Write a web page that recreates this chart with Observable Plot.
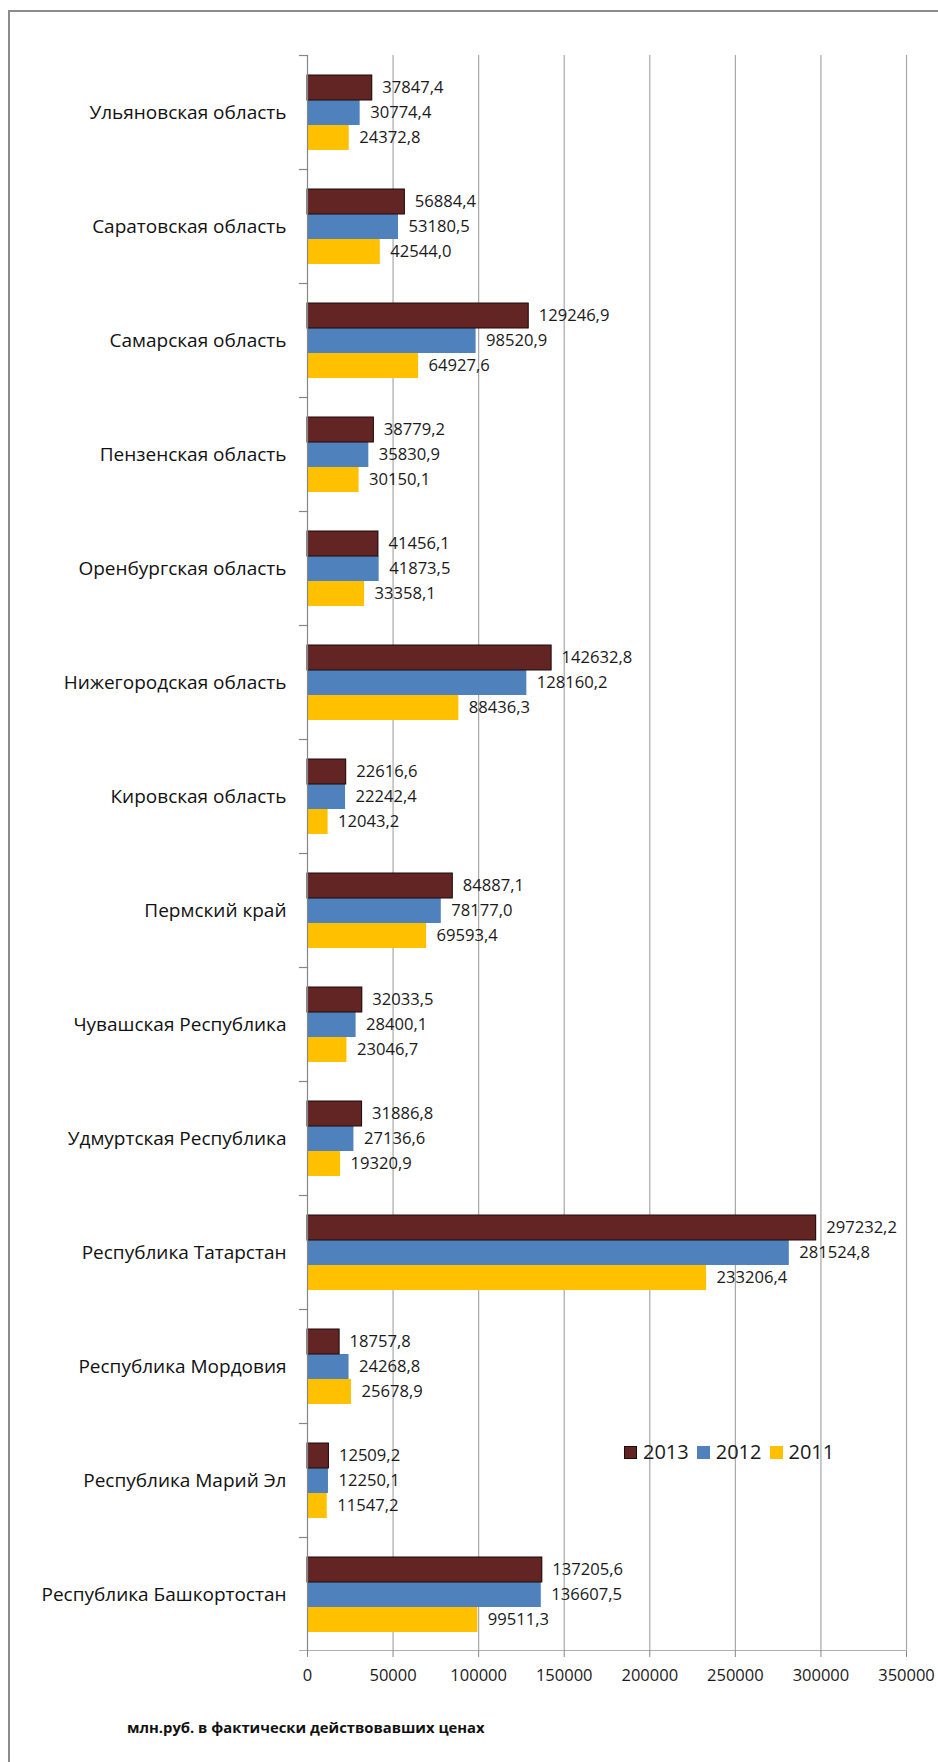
<!DOCTYPE html>
<html>
<head>
<meta charset="utf-8">
<script src="https://cdn.jsdelivr.net/npm/d3@7"></script>
<script src="https://cdn.jsdelivr.net/npm/@observablehq/plot@0.6"></script>
<style>
  html, body { margin: 0; padding: 0; background: #ffffff; }
  #wrap { position: relative; width: 938px; height: 1762px; overflow: hidden; font-family: "Open Sans", sans-serif; color: #1a1a1a; }
  #border { position: absolute; left: 8px; top: 10px; right: -10px; bottom: -10px; border-left: 2px solid #8c8c8c; border-top: 2px solid #8c8c8c; }
  #chart { position: absolute; left: 0; top: 0; }
  #legend { position: absolute; left: 624px; top: 1439px; display: flex; align-items: center; font-size: 20px; line-height: 26px; }
  #legend .item { display: flex; align-items: center; margin-right: 8px; }
  #legend .sw { width: 13px; height: 13px; margin-right: 6px; box-sizing: border-box; }
  #note { position: absolute; left: 127px; top: 1716px; font-size: 14.8px; font-weight: bold; line-height: 22px; color: #111; }
</style>
</head>
<body>
<div id="wrap">
  <div id="border"></div>
  <div id="chart"></div>
  <div id="legend"></div>
  <div id="note">млн.руб. в фактически действовавших ценах</div>
</div>
<script>
// ---- data ----
const regions = [
  "Ульяновская область",
  "Саратовская область",
  "Самарская область",
  "Пензенская область",
  "Оренбургская область",
  "Нижегородская область",
  "Кировская область",
  "Пермский край",
  "Чувашская Республика",
  "Удмуртская Республика",
  "Республика Татарстан",
  "Республика Мордовия",
  "Республика Марий Эл",
  "Республика Башкортостан"
];
const years = ["2013", "2012", "2011"];
const values2013 = [37847.4, 56884.4, 129246.9, 38779.2, 41456.1, 142632.8, 22616.6, 84887.1, 32033.5, 31886.8, 297232.2, 18757.8, 12509.2, 137205.6];
const values2012 = [30774.4, 53180.5, 98520.9, 35830.9, 41873.5, 128160.2, 22242.4, 78177.0, 28400.1, 27136.6, 281524.8, 24268.8, 12250.1, 136607.5];
const values2011 = [24372.8, 42544.0, 64927.6, 30150.1, 33358.1, 88436.3, 12043.2, 69593.4, 23046.7, 19320.9, 233206.4, 25678.9, 11547.2, 99511.3];
const colors = ["#632523", "#4f81bd", "#ffc000"];
const xTicks = [0, 50000, 100000, 150000, 200000, 250000, 300000, 350000];
const xLabels = ["0", "50000", "100000", "150000", "200000", "250000", "300000", "350000"];

// ---- build table ----
const series = {"2013": values2013, "2012": values2012, "2011": values2011};
const rows = [];
regions.forEach((r, i) => years.forEach(y => rows.push({region: r, year: y, value: series[y][i]})));
const fmt = v => v.toFixed(1).replace(".", ",");

// ---- layout ----
const W = 938, H = 1762, mL = 307, mR = 32, mT = 51, mB = 107.5;
const plotW = W - mL - mR;
const facetH = (H - mT - mB) / regions.length;
const axisGray = "#868686";
const gridGray = "#a8a8a8";

const chart = Plot.plot({
  width: W, height: H,
  marginLeft: mL, marginRight: mR, marginTop: mT, marginBottom: mB,
  style: {fontFamily: "Open Sans", background: "transparent", color: "#1a1a1a"},
  x: {domain: [xTicks[0], xTicks[xTicks.length - 1]]},
  fy: {domain: regions, padding: 0},
  y: {domain: years, paddingInner: 0, paddingOuter: 0.75, axis: null},
  color: {domain: years, range: colors},
  marks: [
    Plot.ruleX(xTicks.slice(1), {stroke: gridGray, strokeWidth: 1.2}),
    Plot.barX(rows, {fy: "region", y: "year", x: "value", fill: "year"}),
    Plot.barX(rows, {fy: "region", y: "year", x: "value", fill: "year", stroke: "#1b0b0b", strokeWidth: 1, filter: d => d.year === "2013"}),
    Plot.ruleX([0], {stroke: axisGray, strokeWidth: 1.2}),
    Plot.frame({anchor: "top", stroke: axisGray, strokeWidth: 1.2, insetLeft: -8, insetRight: plotW}),
    Plot.rect([regions[regions.length - 1]], {fy: d => d, x1: xTicks[0], x2: xTicks[xTicks.length - 1], insetTop: facetH - 1.2, insetLeft: -8, fill: axisGray}),
    Plot.text(rows, {fy: "region", y: "year", x: "value", text: d => fmt(d.value), textAnchor: "start", dx: 10, fontSize: 16.6, fill: "#1a1a1a"}),
    Plot.axisFy({anchor: "left", tickSize: 0, tickPadding: 21, fontSize: 19, label: null, fill: "#111"}),
    Plot.axisX(xTicks, {anchor: "bottom", tickSize: 6, tickPadding: 12, fontSize: 16.5, label: null, stroke: axisGray, fill: "#1a1a1a", tickFormat: (d) => xLabels[xTicks.indexOf(d)]})
  ]
});
document.getElementById("chart").appendChild(chart);

// ---- legend ----
const legend = document.getElementById("legend");
years.forEach((y, i) => {
  const item = document.createElement("div");
  item.className = "item";
  const sw = document.createElement("div");
  sw.className = "sw";
  sw.style.background = colors[i];
  if (i === 0) sw.style.border = "1px solid #1b0b0b";
  const t = document.createElement("span");
  t.textContent = y;
  item.appendChild(sw);
  item.appendChild(t);
  legend.appendChild(item);
});
</script>
</body>
</html>
